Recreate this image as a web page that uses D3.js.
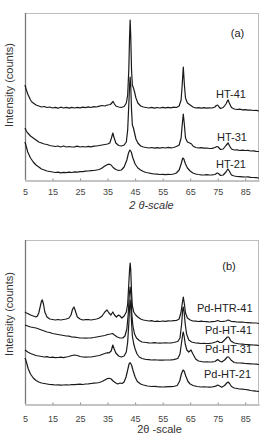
<!DOCTYPE html>
<html><head><meta charset="utf-8">
<script src="https://cdn.jsdelivr.net/npm/d3@7"></script>
<style>html,body{margin:0;padding:0;background:#fff;}svg{display:block;}</style>
</head><body>
<script>
// ---- tick labels ----
const xTicks = [5, 15, 25, 35, 45, 55, 65, 75, 85];

// ---- panel (a) series: [2theta, intensity (arb.)] ----
const ht41 = [[5,95],[5.5,90],[6,86],[6.5,83],[7,80],[7.5,78],[8,77],[9,75],[10,74],[11,73],[12,73.5],[13,72.5],[14,73],[15,72],[16,72.6],[17,71.8],[18,72.8],[19,72],[20,72.6],[21,71.9],[22,72.7],[23,72],[24,72.6],[25,72.2],[26,72.9],[27,72.3],[28,73.1],[29,72.5],[30,73.3],[31,73],[32,73.9],[33,74.5],[34,74],[35,75],[36,75.5],[36.5,77],[37,78.5],[37.5,76],[38,74],[39,73],[40,72.5],[41,73.5],[41.8,77],[42.3,85],[42.7,110],[43.0,145],[43.2,160],[43.4,145],[43.7,110],[44.0,95],[44.4,92],[44.8,88],[45.3,82],[46,77],[47,74],[48,73],[49,72.5],[50,72],[51,72.6],[52,71.8],[53,72.5],[54,72],[55,72.7],[56,72.1],[57,72.6],[58,72.2],[59,72.8],[60,72.5],[61,74],[61.7,80],[62.1,95],[62.5,113],[62.9,95],[63.3,82],[64,77],[65,75],[66,73],[67,72],[68,72.4],[69,71.8],[70,72.3],[71,71.8],[72,72.2],[73,72],[74,73],[74.5,74.5],[75,75],[75.5,73],[76,71.5],[77,72.5],[78,76],[78.5,79],[78.8,80],[79.2,77],[80,72.5],[81,71],[82,70.5],[83,70.8],[84,70.2],[85,70.4],[86,69.8],[87,70],[88,69.5],[89,69.6],[90,69]];
const ht31 = [[5,52],[5.5,49],[6,47],[7,44],[8,42],[9,40],[10,38],[11,37],[12,36],[13,35.5],[14,34.5],[15,34],[16,33.5],[17,34],[18,33],[19,34],[20,33],[21,33.5],[22,33],[23,33.2],[24,33.8],[25,33],[26,33.5],[27,33],[28,33.6],[29,33.2],[30,33.8],[31,34],[32,34.5],[33,35],[34,35.5],[35,36],[35.8,37],[36.4,42],[36.9,47],[37.4,42],[38,37],[39,34.5],[40,34],[41,35],[41.8,38],[42.3,50],[42.7,75],[43.0,95],[43.2,103],[43.4,95],[43.7,70],[44.0,55],[44.4,52],[44.8,47],[45.3,41],[46,37],[47,34],[48,33],[49,32.5],[50,32],[51,32.5],[52,31.8],[53,32.4],[54,31.9],[55,32.5],[56,32],[57,32.6],[58,32.1],[59,32.5],[60,33.5],[61,35],[61.7,42],[62.1,55],[62.5,66],[62.9,55],[63.3,42],[64,38],[64.8,37],[65.5,36],[66,34],[67,32.5],[68,32],[69,32.3],[70,31.8],[71,32],[72,31.5],[73,31.6],[74,32.5],[74.7,33.5],[75.2,33],[76,30.5],[77,31],[78,34.5],[78.8,37],[79.3,34],[80,31],[81,30],[82,30.2],[83,29.5],[84,29.8],[85,29.5],[86,29.6],[87,29],[88,29.2],[89,28.7],[90,28.5]];
const ht21 = [[5,38],[5.3,35],[5.7,31],[6,28],[6.5,25],[7,22],[8,18],[9,15],[10,13],[11,11],[12,10],[13,9],[14,8.5],[15,8],[16,7.5],[17,7.9],[18,7.2],[19,7.6],[20,7.4],[21,7.9],[22,7.5],[23,8.1],[24,7.9],[25,8.4],[26,8.4],[27,8.8],[28,9],[29,9.3],[30,9.5],[31,10],[32,10.5],[33,12],[34,14],[35,15.5],[35.6,15.8],[36.3,15],[37,12.5],[38,10.5],[39,9.5],[40,10],[41,13],[42,20],[42.6,27],[43.1,30],[43.6,28],[44.2,22],[45,16],[46,12],[47,10],[48,8.5],[49,7.5],[50,7],[51,6.4],[52,6],[53,5.8],[54,5.5],[55,5.7],[56,5.4],[57,5.6],[58,5.5],[59,6],[60,7],[61,10],[61.7,16],[62.3,22],[62.7,21],[63.3,16],[64,12],[65,9],[66,7],[67,6],[68,5.5],[69,5.2],[70,5],[71,5.3],[72,5],[73,5.1],[74,5.5],[74.8,7],[75.3,6.5],[76,4.5],[77,5],[78,8],[78.7,11],[79.2,9],[80,5],[81,4],[82,3.5],[83,3.4],[84,3.2],[85,3],[86,3.1],[87,2.7],[88,2.5],[89,2.3],[90,2]];

// ---- panel (b) series ----
const pdHTR41 = [[5,92],[5.5,91],[6,90.5],[7,89],[8,88],[9,87],[9.5,88],[10,91],[10.5,97],[11,103],[11.3,104],[11.7,100],[12.2,92],[13,87],[14,85],[15,84.5],[16,84],[17,84.5],[18,84],[19,84.5],[20,85],[21,86],[21.7,89],[22.3,95],[22.8,97],[23.3,93],[24,87],[25,85],[26,84],[27,84.3],[28,84.5],[29,84],[30,84.5],[31,85],[32,86],[33,88],[34,92],[34.8,94],[35.5,91],[36.2,89],[36.9,92],[37.5,89],[38.2,87],[39,89],[39.5,88],[40.2,86],[41,88],[41.8,92],[42.3,100],[42.7,120],[43.0,135],[43.2,141],[43.4,135],[43.7,112],[44.0,98],[44.5,92],[45.2,89],[46,87],[47,85],[48,84],[50,83],[51,83.4],[52,82.5],[53,82.9],[54,82.5],[55,83],[56,82.7],[57,83.2],[58,83],[59,83.3],[60,83.5],[61,85],[61.7,92],[62.1,100],[62.5,107],[62.9,100],[63.3,91],[64,86],[65,84],[66,83],[67,82.8],[68,82.5],[69,82.8],[70,82.5],[71,82.3],[72,82],[73,82.4],[74,82.5],[75,83.5],[76,82.5],[77,82.6],[78,83],[78.8,84],[80,82.5],[81,82.3],[82,82],[83,81.8],[84,82],[85,81.5],[86,81.4],[87,81.2],[88,81],[89,81],[90,80.5]];
const pdHT41 = [[5,79],[6,78],[7,77],[8,76.5],[9,76],[10,75],[11,74],[12,73],[13,72],[14,71.5],[15,70.5],[16,70],[17,69.5],[18,69],[19,68.5],[20,68],[21,67.8],[22,67],[23,66.8],[24,66.5],[25,66],[26,66],[27,65.8],[28,66],[29,66.2],[30,66.5],[31,67],[32,67.5],[33,68],[34,68.5],[35,69.5],[36,70],[36.8,70.5],[37.5,69],[38.5,67],[39.5,66],[40.5,66],[41.3,68],[42,75],[42.5,90],[42.9,110],[43.2,117],[43.5,108],[43.8,90],[44.2,78],[44.8,70],[45.5,66],[46.5,63.5],[47.5,62],[49,61.5],[50,61.2],[51,61],[52,61.3],[53,61],[54,60.8],[55,61],[56,61.2],[57,61],[58,61.1],[59,61.5],[60.5,62.5],[61.3,66],[61.9,80],[62.3,95],[62.5,97],[62.8,92],[63.2,80],[63.7,70],[64.5,64],[65.5,62],[67,61],[68,60.8],[69,60.5],[70,60.6],[71,60.5],[72,60.7],[73,61],[74.3,62],[75,63],[75.7,61.5],[76.5,61.5],[77.5,64],[78.5,67],[79,67],[79.8,63],[81,61],[82,60.5],[83,60],[84,59.8],[85,59.5],[86,59.4],[87,59.2],[88,59],[89,58.8],[90,58.5]];
const pdHT31 = [[5,54],[5.5,53],[6,52],[7,50.5],[8,49.5],[9,48.5],[10,48],[11,47.5],[12,47],[13,47.3],[14,46.5],[15,46.8],[16,46.3],[17,46.5],[18,46.8],[19,46.4],[20,47],[21,47.5],[22,48.5],[23,49],[24,48.5],[25,47.5],[26,47],[27,46.8],[28,47],[29,47],[30,47.5],[31,48],[32,48.5],[33,49.5],[34,50.5],[34.8,51.3],[35.5,51],[36.3,53],[36.9,59],[37.4,55],[38,51],[39,48],[40,47],[41,48],[41.8,52],[42.3,62],[42.7,80],[43.0,98],[43.2,104],[43.4,97],[43.7,82],[44.0,68],[44.5,60],[45,55],[45.7,50],[46.5,47],[47.5,45.5],[49,44.5],[50,44.3],[51,44],[52,44.2],[53,44],[54,43.9],[55,43.8],[56,44],[57,44],[58,44.1],[59,44.3],[60.5,45.5],[61.3,50],[61.9,62],[62.3,70],[62.5,72],[62.8,68],[63.2,60],[63.8,54],[64.5,52],[65.3,54],[66,50],[67,45],[68,43],[69,42.5],[70,42],[71,42.2],[72,42],[73,42.2],[74,42.5],[75,44.5],[75.7,43],[76.5,42],[77.5,44],[78.5,47],[79,47],[79.8,44],[81,41.5],[82,41.2],[83,41],[84,40.8],[85,40.5],[86,40.4],[87,40.2],[88,40],[89,39.8],[90,39.5]];
const pdHT21 = [[5,46],[5.3,44],[5.7,40],[6.2,35],[7,30],[8,26],[9,23.5],[10,22],[11,21],[12,20.5],[13,20],[14,19.5],[15,19.3],[16,19],[17,19.2],[18,18.8],[19,19],[20,19.2],[21,19],[22,19.5],[23,19.3],[24,19.6],[25,19.8],[26,19.5],[27,20],[28,20.2],[29,20.5],[30,20.8],[31,21],[32,21.5],[33,22.5],[34,24],[35,25.5],[35.6,25.7],[36.3,25],[37,23],[38,21],[38.7,20],[39.5,21],[40.3,20.5],[41,22],[41.7,27],[42.3,34],[42.8,40],[43.2,41.3],[43.7,39],[44.3,33],[45,27],[45.8,22.5],[47,20],[48,19],[49.5,18],[51,17.5],[52,17.6],[53,17.3],[54,17.2],[55,17],[56,17.2],[57,17.3],[58,17.3],[59,17.5],[60.3,18.5],[61.2,23],[61.8,30],[62.4,34],[62.8,33],[63.4,28],[64.2,22.5],[65,20],[66,18.5],[67.5,17.5],[69,17],[70,17.1],[71,17],[72,16.9],[73,17],[74.3,17.8],[75,19],[75.7,18],[76.5,16.8],[77.5,18.5],[78.3,21],[78.8,22],[79.3,20.5],[80,17.5],[81,16],[82,15.5],[83,15],[84,14.8],[85,14.5],[86,14.2],[87,13.5],[88,13.2],[89,12.8],[90,12.5]];

const panels = [
  { top: 13, bottom: 180, ymax: 167, tag: "(a)", tagX: 237.5, tagY: 37,
    series: [ht41, ht31, ht21],
    labels: [["HT-41", 246, 97.5], ["HT-31", 247, 141], ["HT-21", 246, 168]],
    title: "2 θ-scale", italic: true, titleX: 151.5, titleY: 208.5, ylabY: 85, tickY: 195 },
  { top: 240, bottom: 404, ymax: 164, tag: "(b)", tagX: 229, tagY: 270,
    series: [pdHTR41, pdHT41, pdHT31, pdHT21],
    labels: [["Pd-HTR-41", 252.5, 312], ["Pd-HT-41", 252, 334], ["Pd-HT-31", 252, 352.5], ["Pd-HT-21", 251, 378]],
    title: "2θ -scale", italic: false, titleX: 159.5, titleY: 432.5, ylabY: 314, tickY: 421.5 }
];

const W = 273, H = 436, L = 25, R = 259;
const svg = d3.select("body").append("svg").attr("width", W).attr("height", H)
  .style("font-family", "Arial, 'Liberation Sans', sans-serif");

const x = d3.scaleLinear().domain([5, 90]).range([L, R]);

panels.forEach(p => {
  const y = d3.scaleLinear().domain([0, p.ymax]).range([p.bottom, p.top]);
  const g = svg.append("g");
  g.append("line").attr("x1", L).attr("x2", R).attr("y1", p.top + 0.5).attr("y2", p.top + 0.5)
    .attr("stroke", "#bdbdbd").attr("stroke-width", 1);
  g.append("line").attr("x1", R - 0.5).attr("x2", R - 0.5).attr("y1", p.top).attr("y2", p.bottom)
    .attr("stroke", "#bdbdbd").attr("stroke-width", 1);
  g.append("line").attr("x1", L + 0.5).attr("x2", L + 0.5).attr("y1", p.top).attr("y2", p.bottom)
    .attr("stroke", "#7a7a7a").attr("stroke-width", 1.3);
  const ax = g.append("g").attr("transform", `translate(0,${p.bottom + 0.5})`)
    .call(d3.axisBottom(x).tickValues(xTicks).tickSize(0).tickPadding(0).tickFormat(d3.format("d")));
  ax.select(".domain").attr("stroke", "#8a8a8a").attr("stroke-width", 1.2);
  ax.selectAll(".tick").append("line").attr("y1", -2).attr("y2", 0).attr("stroke", "#8a8a8a");
  ax.selectAll(".tick text").attr("y", p.tickY - p.bottom - 0.5).attr("dy", 0)
    .attr("fill", "#444").style("font-size", "9px").style("font-family", "Arial, 'Liberation Sans', sans-serif");

  const line = d3.line().x(d => x(d[0])).y(d => y(d[1]));
  p.series.forEach(s => {
    g.append("path").datum(s).attr("d", line).attr("fill", "none")
      .attr("stroke", "#1a1a1a").attr("stroke-width", 1.2).attr("stroke-linejoin", "round");
  });

  p.labels.forEach(([t, lx, ly]) => {
    g.append("text").attr("x", lx).attr("y", ly).attr("text-anchor", "end")
      .attr("fill", "#222").style("font-size", "11px").text(t);
  });
  g.append("text").attr("x", p.tagX).attr("y", p.tagY).attr("text-anchor", "middle")
    .attr("fill", "#222").style("font-size", "11px").text(p.tag);

  g.append("text").attr("x", p.titleX).attr("y", p.titleY).attr("text-anchor", "middle")
    .attr("fill", "#333").style("font-size", "11px").style("font-style", p.italic ? "italic" : "normal").text(p.title);
  g.append("text").attr("transform", `translate(13,${p.ylabY}) rotate(-90)`).attr("text-anchor", "middle")
    .attr("fill", "#333").style("font-size", "11px").text("Intensity (counts)");
});
</script>
</body></html>
